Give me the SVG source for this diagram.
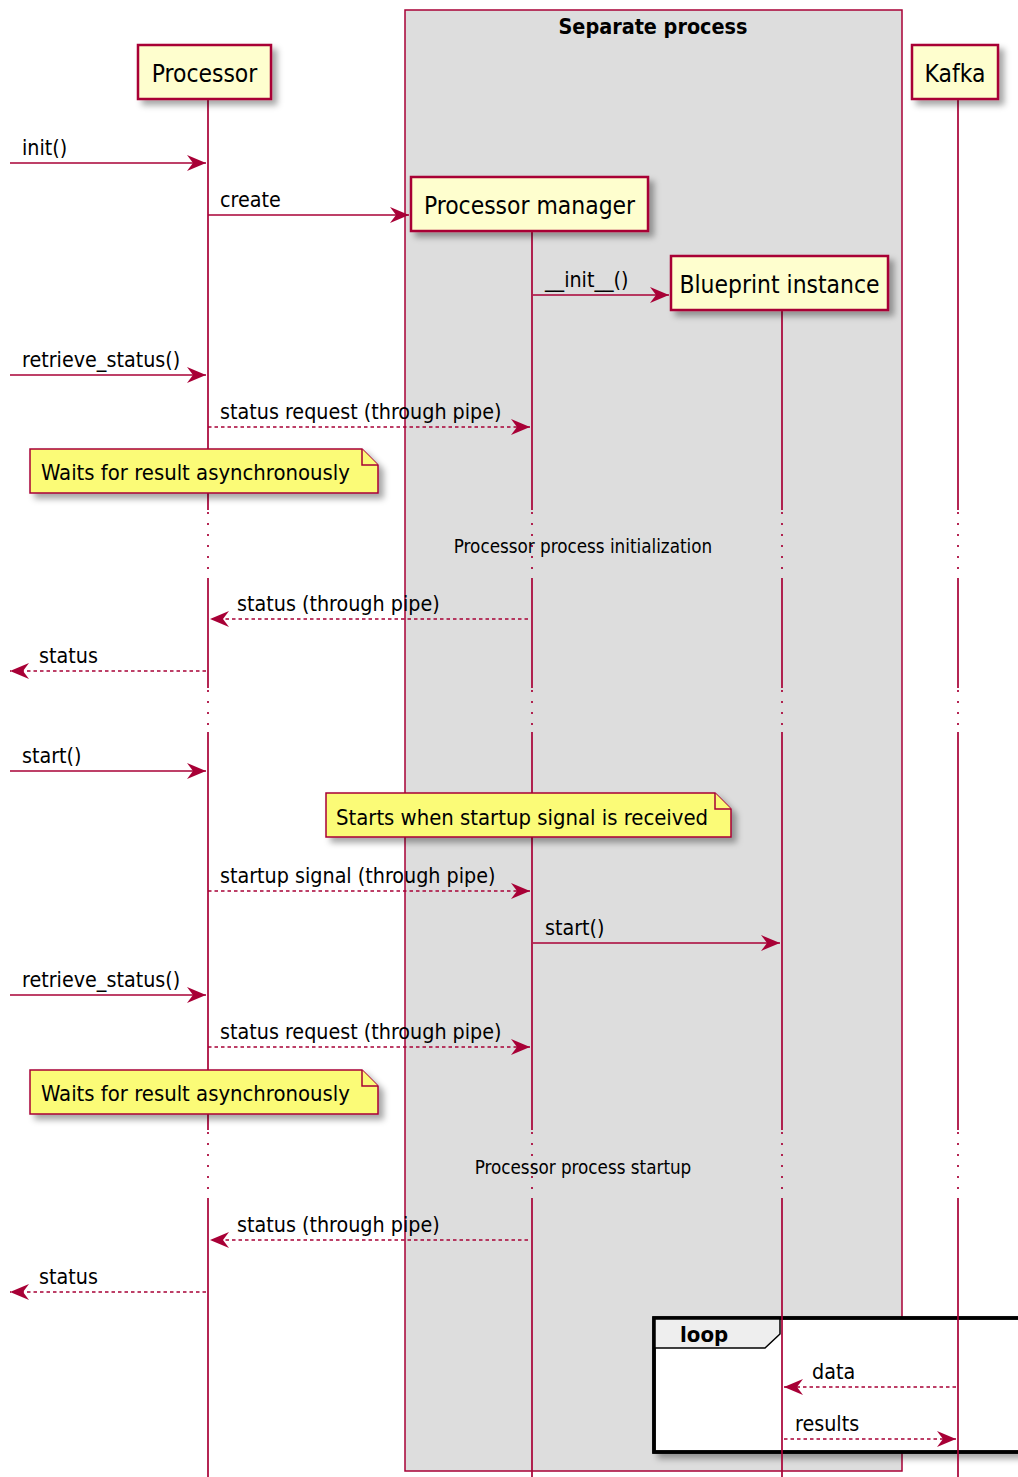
<svg xmlns="http://www.w3.org/2000/svg" width="1018" height="1477" viewBox="0 0 1018 1477">
<defs>
<filter id="sh" x="-10%" y="-20%" width="130%" height="160%">
<feGaussianBlur in="SourceAlpha" stdDeviation="3"/>
<feOffset dx="5" dy="5" result="b"/>
<feFlood flood-color="#000000" flood-opacity="0.35"/>
<feComposite in2="b" operator="in"/>
<feMerge><feMergeNode/><feMergeNode in="SourceGraphic"/></feMerge>
</filter>
<marker id="ah" viewBox="0 0 19 16" refX="19" refY="8" markerWidth="19" markerHeight="16" markerUnits="userSpaceOnUse" orient="auto">
<path d="M0,0 L19,8 L0,16 L6,8 Z" fill="#A80036"/>
</marker>
<style>
text{font-family:"DejaVu Sans Condensed","DejaVu Sans",sans-serif;font-stretch:condensed;fill:#000}
.pt{font-size:24.4px;text-anchor:middle}
.ml{font-size:21.3px}
.nt{font-size:21.9px}
.dl{font-size:18.7px;text-anchor:middle}
.part{fill:#FEFECE;stroke:#A80036;stroke-width:2.5;filter:url(#sh)}
.note{fill:#FBFB77;stroke:#A80036;stroke-width:1.5}
.life{stroke:#A80036;stroke-width:1.7;fill:none}
.dot{stroke:#A80036;stroke-width:1.7;fill:none;stroke-dasharray:2,9}
.msg{stroke:#A80036;stroke-width:1.7;fill:none;marker-end:url(#ah)}
.dash{stroke-dasharray:3.5,3}
</style>
</defs>
<rect width="1018" height="1477" fill="#FFFFFF"/>

<g id="box-separate-process">
<rect x="405" y="10" width="497" height="1461" fill="#DDDDDD" stroke="#A80036" stroke-width="1.5"/>
<text x="653" y="34" style="font-size:21.4px;font-weight:bold;text-anchor:middle">Separate process</text>
</g>

<g id="loop">
<rect x="654" y="1318" width="380" height="134" fill="#FFFFFF" stroke="#000" stroke-width="3.5" filter="url(#sh)"/>
<path d="M654,1318 H780 V1334 L765,1348 H654 Z" fill="#EEEEEE" stroke="#000" stroke-width="1.5"/>
<rect x="654" y="1318" width="380" height="134" fill="none" stroke="#000" stroke-width="3.5"/>
<text x="680" y="1342" style="font-size:22px;font-weight:bold">loop</text>
</g>

<g id="lifelines">
<path class="life" d="M208,100 V510 M208,580 V688 M208,732 V1130 M208,1200 V1477"/>
<path class="dot" d="M208,512 V580 M208,690 V732 M208,1132 V1200"/>
<path class="life" d="M532,232 V510 M532,580 V688 M532,732 V1130 M532,1200 V1477"/>
<path class="dot" d="M532,512 V580 M532,690 V732 M532,1132 V1200"/>
<path class="life" d="M782,311 V510 M782,580 V688 M782,732 V1130 M782,1200 V1477"/>
<path class="dot" d="M782,512 V580 M782,690 V732 M782,1132 V1200"/>
<path class="life" d="M958,100 V510 M958,580 V688 M958,732 V1130 M958,1200 V1477"/>
<path class="dot" d="M958,512 V580 M958,690 V732 M958,1132 V1200"/>
</g>

<g id="delays">
<text class="dl" x="583" y="553">Processor process initialization</text>
<text class="dl" x="583" y="1174">Processor process startup</text>
</g>

<g id="connectors">
<line class="msg" x1="10" y1="163" x2="206" y2="163"/>
<text class="ml" x="22" y="155">init()</text>
<line class="msg" x1="208" y1="215" x2="409" y2="215"/>
<text class="ml" x="220" y="207">create</text>
<line class="msg" x1="533" y1="295" x2="669" y2="295"/>
<text class="ml" x="545" y="287">__init__()</text>
<line class="msg" x1="10" y1="375" x2="206" y2="375"/>
<text class="ml" x="22" y="367">retrieve_status()</text>
<line class="msg dash" x1="208" y1="427" x2="530" y2="427"/>
<text class="ml" x="220" y="419">status request (through pipe)</text>
<line class="msg dash" x1="528" y1="619" x2="210" y2="619"/>
<text class="ml" x="237" y="611">status (through pipe)</text>
<line class="msg dash" x1="206" y1="671" x2="10" y2="671"/>
<text class="ml" x="39" y="663">status</text>
<line class="msg" x1="10" y1="771" x2="206" y2="771"/>
<text class="ml" x="22" y="763">start()</text>
<line class="msg dash" x1="208" y1="891" x2="530" y2="891"/>
<text class="ml" x="220" y="883">startup signal (through pipe)</text>
<line class="msg" x1="533" y1="943" x2="780" y2="943"/>
<text class="ml" x="545" y="935">start()</text>
<line class="msg" x1="10" y1="995" x2="206" y2="995"/>
<text class="ml" x="22" y="987">retrieve_status()</text>
<line class="msg dash" x1="208" y1="1047" x2="530" y2="1047"/>
<text class="ml" x="220" y="1039">status request (through pipe)</text>
<line class="msg dash" x1="528" y1="1240" x2="210" y2="1240"/>
<text class="ml" x="237" y="1232">status (through pipe)</text>
<line class="msg dash" x1="206" y1="1292" x2="10" y2="1292"/>
<text class="ml" x="39" y="1284">status</text>
<line class="msg dash" x1="956" y1="1387" x2="784" y2="1387"/>
<text class="ml" x="812" y="1379">data</text>
<line class="msg dash" x1="784" y1="1439" x2="956" y2="1439"/>
<text class="ml" x="795" y="1431">results</text>
</g>

<g id="note-waits-1">
<path class="note" filter="url(#sh)" d="M30,449 H362 L378,465 V493 H30 Z"/>
<path class="note" d="M362,449 V465 H378"/>
<text class="nt" x="41" y="480">Waits for result asynchronously</text>
</g>
<g id="note-starts">
<path class="note" filter="url(#sh)" d="M326,793 H715 L731,809 V837 H326 Z"/>
<path class="note" d="M715,793 V809 H731"/>
<text class="nt" x="336" y="825">Starts when startup signal is received</text>
</g>
<g id="note-waits-2">
<path class="note" filter="url(#sh)" d="M30,1070 H362 L378,1086 V1114 H30 Z"/>
<path class="note" d="M362,1070 V1086 H378"/>
<text class="nt" x="41" y="1101">Waits for result asynchronously</text>
</g>

<g id="participant-processor">
<rect class="part" x="138" y="45" width="133" height="54"/>
<text class="pt" x="204.5" y="82">Processor</text>
</g>
<g id="participant-kafka">
<rect class="part" x="912" y="45" width="86" height="54"/>
<text class="pt" x="955" y="82">Kafka</text>
</g>
<g id="participant-processor-manager">
<rect class="part" x="411" y="177" width="237" height="54"/>
<text class="pt" x="529.5" y="214">Processor manager</text>
</g>
<g id="participant-blueprint-instance">
<rect class="part" x="671" y="256" width="217" height="54"/>
<text class="pt" x="779.5" y="293">Blueprint instance</text>
</g>
</svg>
